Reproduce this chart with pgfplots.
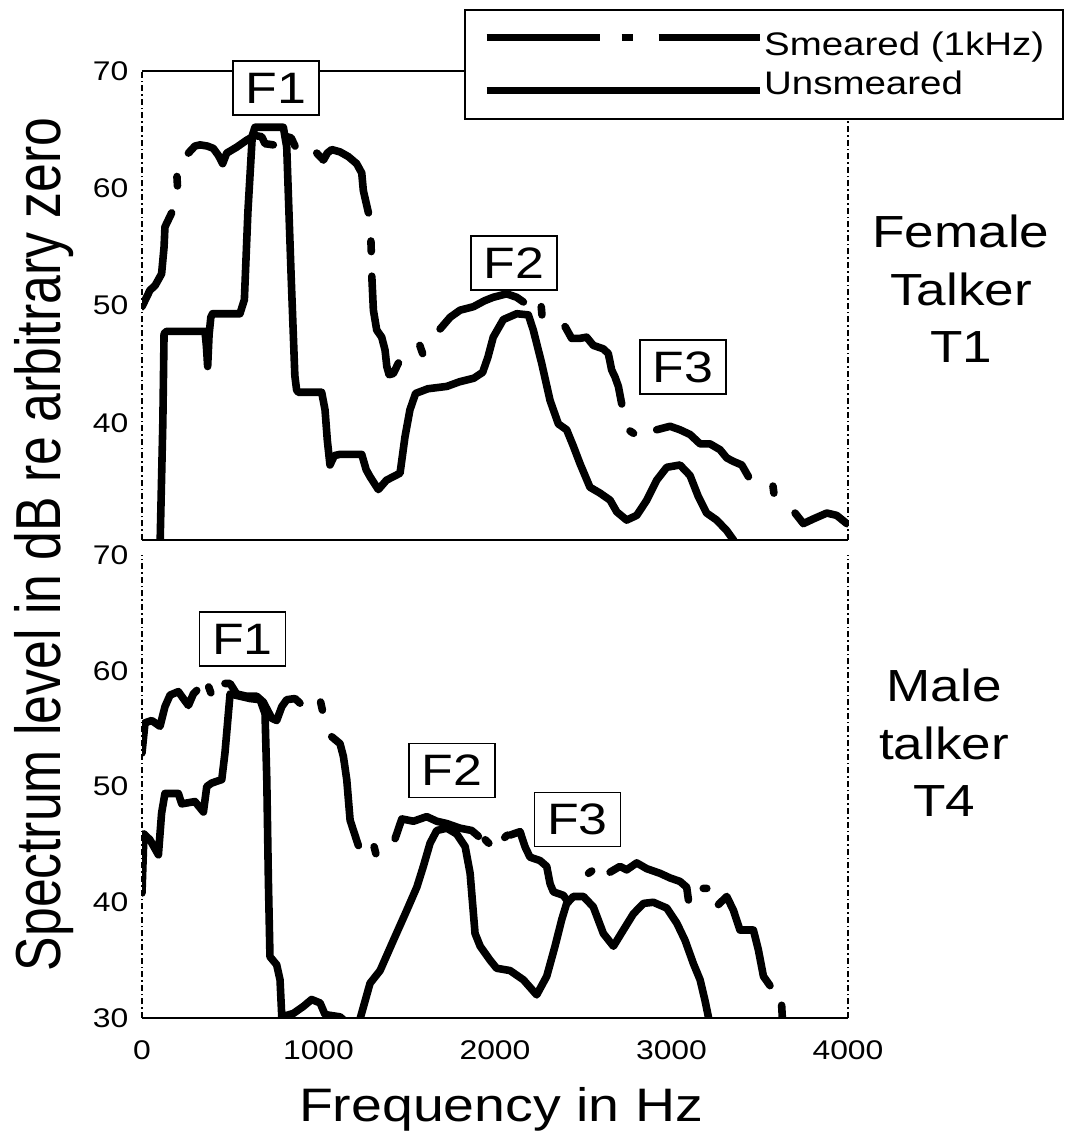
\documentclass[border=0pt]{standalone}
\usepackage{graphicx}
\usepackage{fontspec}
\setmainfont[FakeStretch=1.18]{Liberation Sans}
\newfontfamily\plainsans{Liberation Sans}
\usepackage{pgfplots}
\pgfplotsset{compat=1.18}
\usepackage{pgfplotstable}

\pgfplotstableread{
f db
100 28
118 40
125 47.6
140 47.8
357 47.8
365 46.5
372 44.8
380 47.5
390 49.0
400 49.3
555 49.3
580 50.5
600 58
625 64.5
640 65.2
801 65.2
820 63.5
845 52.5
866 44
876 42.8
886 42.6
1018 42.6
1037 41.1
1050 38.5
1065 36.4
1090 37.2
1120 37.3
1245 37.3
1270 36
1292 35.4
1339 34.3
1385 35.1
1462 35.7
1490 38.8
1518 41.1
1550 42.5
1620 42.9
1727 43.1
1800 43.5
1880 43.8
1930 44.3
1960 45.6
1990 47.3
2047 48.8
2123 49.3
2189 49.2
2217 47.9
2264 45.1
2312 41.9
2359 39.9
2406 39.4
2444 38.0
2482 36.5
2538 34.5
2595 34.0
2652 33.4
2690 32.4
2746 31.7
2803 32.1
2860 33.4
2916 35.1
2973 36.2
3048 36.4
3105 35.5
3152 33.7
3199 32.3
3256 31.7
3313 30.8
3351 30.0
3370 29
}\topunsmeared

\pgfplotstableread{
f db
0 49.9
45 51.3
74 51.7
111 52.7
125 55
130 56.7
149 57.3
168 57.9
nan nan
198 61.0
201 60.2
nan nan
263 63.0
300 63.6
329 63.7
370 63.6
404 63.4
433 62.8
457 62.1
480 63.0
536 63.5
593 64.1
640 64.5
678 64.4
697 63.8
744 63.7
nan nan
820 64.4
845 64.3
867 63.6
nan nan
990 63.0
1028 62.4
1050 63.0
1075 63.3
1122 63.1
1169 62.7
1216 62.1
1245 61.3
1254 59.8
1283 57.9
nan nan
1297 55.5
1299 54.6
nan nan
1302 52.5
1311 49.6
1330 47.9
1358 47.3
1377 46.2
1387 44.8
1400 44.1
1424 44.2
1453 45.1
nan nan
1574 46.6
1590 45.9
nan nan
1689 48.0
1746 49.0
1802 49.6
1878 49.9
1940 50.4
1990 50.7
2066 51.0
2123 50.7
2161 50.3
nan nan
2262 49.9
2266 49.2
nan nan
2397 48.2
2434 47.2
2482 47.2
2519 47.3
2557 46.6
2614 46.3
2642 45.9
2661 44.5
2680 43.9
2699 43.1
2718 41.6
nan nan
2765 39.3
2785 39.1
nan nan
2916 39.4
2992 39.7
3048 39.4
3105 39.0
3162 38.2
3218 38.2
3275 37.7
3313 37.0
3351 36.7
3398 36.4
3436 35.4
nan nan
3575 34.6
3580 34.0
nan nan
3700 32.3
3747 31.4
3804 31.8
3880 32.3
3936 32.1
3993 31.4
}\topsmeared

\pgfplotstableread{
f db
0 40.8
11 45.9
45 45.4
93 44.1
111 47.7
130 49.4
206 49.4
225 48.5
300 48.7
348 47.8
367 50.0
395 50.3
452 50.6
470 52.9
499 58.0
527 57.9
612 57.6
669 57.5
697 56.3
707 50.6
716 41.9
725 35.3
763 34.6
782 33.3
792 30.1
858 30.4
914 31.0
961 31.6
1009 31.3
1037 30.3
1122 30.1
1160 29.6
1200 29.0
1235 29.9
1292 33.0
1349 34.1
1424 36.7
1500 39.3
1557 41.3
1594 43.1
1632 45.1
1670 46.2
1727 46.4
1783 45.9
1831 44.8
1859 42.5
1887 37.3
1916 36.2
1972 35.0
2009 34.3
2085 34.1
2161 33.3
2236 32.0
2293 33.6
2340 36.2
2378 38.5
2406 39.9
2444 40.5
2501 40.5
2557 39.6
2614 37.3
2671 36.2
2727 37.6
2784 39.0
2841 39.9
2897 40.0
2973 39.5
3030 38.2
3077 36.7
3124 34.7
3162 33.3
3190 31.5
3209 30.1
3220 29
}\botunsmeared

\pgfplotstableread{
f db
0 52.9
17 55.5
55 55.7
102 55.2
130 56.9
159 57.9
206 58.2
234 57.6
263 57.0
291 58.0
310 58.3
nan nan
378 58.6
390 58.1
nan nan
470 58.9
499 58.9
536 58.0
593 57.8
650 57.8
687 57.3
735 55.9
763 55.7
792 56.9
820 57.5
867 57.6
895 57.2
nan nan
1012 57.3
1022 56.6
nan nan
1075 54.3
1122 53.7
1141 52.6
1160 50.6
1179 47.1
1198 46.2
1226 44.9
nan nan
1315 44.8
1325 44.2
nan nan
1434 45.5
1472 47.2
1538 47.0
1613 47.4
1670 47.0
1727 46.8
1802 46.4
1868 46.2
1906 45.7
nan nan
1945 45.4
1965 45.1
nan nan
2055 45.6
2070 45.8
nan nan
2085 45.8
2142 46.1
2170 44.8
2198 43.9
2255 43.6
2293 43.1
2312 41.6
2331 40.9
2387 40.6
2416 40.0
nan nan
2530 42.5
2548 42.7
nan nan
2652 42.6
2708 43.1
2746 42.8
2803 43.4
2860 42.9
2935 42.5
2992 42.1
3048 41.8
3086 41.3
3096 40.2
nan nan
3180 41.2
3200 41.2
nan nan
3266 39.8
3313 40.5
3351 39.3
3388 37.6
3464 37.6
3492 35.9
3521 33.6
3558 32.8
nan nan
3624 31.1
3630 29.5
}\botsmeared

\tikzset{
  sideline/.style={black, line width=0.6pt, dash pattern=on 3pt off 1.5pt on 0.8pt off 1.5pt},
  frameline/.style={black, line width=0.8pt},
}
\pgfplotsset{
  panel/.style={
    scale only axis, width=353pt,
    xmin=0, xmax=4000, ymin=30, ymax=70,
    axis line style={draw=none},
    major tick length=0pt,
    clip mode=individual,
    /pgf/number format/assume math mode=true,
    /pgf/number format/1000 sep={},
    ticklabel style={font=\fontsize{13.5}{15}\selectfont},
    yticklabel style={xshift=-3.3pt},
    xticklabel style={yshift=-8pt},
    unbounded coords=jump,
  },
  curve/.style={black, line width=3.8pt, line join=round, line cap=round, forget plot},
}

\begin{document}
\begin{tikzpicture}
\useasboundingbox (0pt,0pt) rectangle (532.5pt,-567.5pt);

% ---------- top panel ----------
\begin{axis}[panel,
  at={(71pt,-270pt)}, anchor=south west, height=234.5pt,
  xtick=\empty, ytick={40,50,60,70},
  legend style={at={(axis description cs:1.3059,1.1322)}, anchor=north east,
    draw=black, line width=0.8pt, fill=white,
    inner xsep=9pt, inner ysep=10.5pt, row sep=5pt,
    font=\fontsize{16.3}{18}\selectfont,
    nodes={inner sep=0.5pt}},
  legend cell align=left,
  legend image code/.code={\draw[#1] (0pt,0pt) -- (136.5pt,0pt);},
]
\draw[frameline] (rel axis cs:0,1) -- (rel axis cs:1,1);
\draw[frameline] (rel axis cs:0,0) -- (rel axis cs:1,0);
\draw[sideline] (rel axis cs:0,0) -- (rel axis cs:0,1);
\draw[sideline] (rel axis cs:1,0) -- (rel axis cs:1,1);
\addplot[curve] table[x=f, y=db] {\topunsmeared};
\addplot[curve] table[x=f, y=db] {\topsmeared};
\addlegendimage{black, line width=3.6pt, line cap=butt, dash pattern=on 56.5pt off 11pt on 5.5pt off 13pt on 60pt, yshift=4pt}
\addlegendentry{Smeared (1kHz)}
\addlegendimage{black, line width=3.6pt, line cap=butt, yshift=-3.5pt}
\addlegendentry{Unsmeared}
\end{axis}

% ---------- bottom panel ----------
\begin{axis}[panel,
  at={(71pt,-509pt)}, anchor=south west, height=231.5pt,
  xtick={0,1000,2000,3000,4000}, ytick={30,40,50,60,70},
]
\draw[frameline] (rel axis cs:0,0) -- (rel axis cs:1,0);
\draw[sideline] (rel axis cs:0,0) -- (rel axis cs:0,1);
\draw[sideline] (rel axis cs:1,0) -- (rel axis cs:1,1);
\addplot[curve] table[x=f, y=db] {\botunsmeared};
\addplot[curve] table[x=f, y=db] {\botsmeared};
\end{axis}

% ---------- formant labels ----------
\tikzset{fbox/.style={draw=black, line width=0.7pt, fill=white, minimum width=43pt,
  minimum height=27pt, inner sep=0pt, font=\fontsize{22}{24}\selectfont}}
\node[fbox] at (138pt,-44pt) {F1};
\node[fbox] at (257pt,-131.5pt) {F2};
\node[fbox] at (341.5pt,-183.5pt) {F3};
\node[fbox] at (121.25pt,-319.5pt) {F1};
\node[fbox] at (226pt,-385.25pt) {F2};
\node[fbox] at (288.75pt,-409.75pt) {F3};

% ---------- talker labels ----------
\node[align=center, font=\fontsize{22.5}{28.75}\selectfont] at (480.5pt,-144.5pt) {Female\\Talker\\T1};
\node[align=center, font=\fontsize{22.5}{28.75}\selectfont] at (472pt,-371.5pt) {Male\\talker\\T4};

% ---------- axis titles ----------
\node[rotate=90, anchor=base, inner sep=0pt] at (30pt,-272.25pt)
  {\scalebox{1}[1.23]{\plainsans\fontsize{25.85}{30}\selectfont Spectrum level in dB re arbitrary zero}};
\node[anchor=base, inner sep=0pt, font=\fontsize{23.5}{28}\selectfont] at (250.5pt,-560.5pt) {Frequency in Hz};
\end{tikzpicture}
\end{document}
